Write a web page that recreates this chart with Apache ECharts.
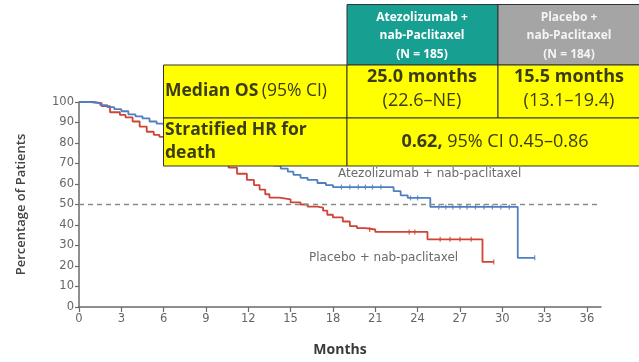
<!DOCTYPE html>
<html>
<head>
<meta charset="utf-8">
<script src="https://cdn.jsdelivr.net/npm/echarts@6/dist/echarts.min.js"></script>
<style>
html,body{margin:0;padding:0;background:#fff;}
#chart{width:639px;height:362px;}
</style>
</head>
<body>
<div id="chart"></div>
<script>
// ---- data ----
const xTicks = [0, 3, 6, 9, 12, 15, 18, 21, 24, 27, 30, 33, 36];
const yTicks = [0, 10, 20, 30, 40, 50, 60, 70, 80, 90, 100];

const atezoTime = [0, 0.8, 1.5, 2.0, 2.5, 3.0, 3.5, 4.0, 4.5, 5.0, 5.5, 6.0, 7, 8, 9, 10, 11, 12, 13, 13.8, 14.3, 14.8, 15.2, 15.7, 16.2, 16.9, 17.5, 18.0, 22.3, 22.8, 23.3, 24.9, 31.1, 32.3];
const atezoSurv = [100, 99.5, 98.5, 97.5, 96.5, 95.5, 94, 93, 92, 90.5, 89.5, 88.5, 86, 83.5, 81, 78.5, 76, 73.5, 71, 69, 67.5, 66, 64.5, 63, 62, 60.5, 59.5, 58.5, 56.5, 54.5, 53.2, 48.8, 24, 24];
const atezoCensorT = [18.6, 19.2, 19.8, 20.3, 20.8, 21.4, 23.5, 24.0, 25.5, 26.0, 26.5, 27.0, 27.5, 28.1, 28.7, 29.3, 29.9, 30.5, 32.3];
const atezoCensorS = [58.5, 58.5, 58.5, 58.5, 58.5, 58.5, 53.2, 53.2, 48.8, 48.8, 48.8, 48.8, 48.8, 48.8, 48.8, 48.8, 48.8, 48.8, 24];

const placeboTime = [0, 1.0, 1.6, 2.2, 2.9, 3.3, 3.8, 4.3, 4.8, 5.3, 5.7, 6.5, 7.5, 8.5, 9.5, 10.2, 10.6, 11.2, 11.9, 12.4, 12.8, 13.2, 13.5, 14.2, 15.0, 15.7, 16.2, 16.9, 17.3, 17.6, 18.0, 18.7, 19.2, 19.7, 20.3, 21.0, 24.7, 28.6, 29.4];
const placeboSurv = [100, 99.5, 98, 95, 93.7, 92.5, 90.5, 88, 85.5, 84, 83, 81.5, 79, 76, 72.5, 70, 68, 65, 62, 59.5, 57.3, 55, 53.4, 52.5, 51, 50, 49, 48.5, 47, 45, 43.7, 41.7, 39.5, 38.5, 37.8, 36.6, 33, 22, 22];
const placeboCensorT = [20.6, 23.4, 23.8, 25.6, 26.3, 27.0, 27.8, 29.4];
const placeboCensorS = [37.8, 36.6, 36.6, 33, 33, 33, 33, 22];

const curveLabels = ['Atezolizumab + nab-paclitaxel', 'Placebo + nab-paclitaxel'];
const headerCol1 = ['Atezolizumab +', 'nab-Paclitaxel', '(N = 185)'];
const headerCol2 = ['Placebo +', 'nab-Paclitaxel', '(N = 184)'];
const rowLabels = ['Median OS', '(95% CI)', 'Stratified HR for', 'death'];
const medianAtezo = ['25.0 months', '(22.6–NE)'];
const medianPlacebo = ['15.5 months', '(13.1–19.4)'];
const hrText = ['0.62,', ' 95% CI 0.45–0.86'];

// ---- build ----
const zip = (a, b) => a.map((v, i) => [v, b[i]]);
const BLUE = '#4f7fc0', RED = '#cf4436';
const F = 'Open Sans, Liberation Sans, sans-serif';
const FA = 'DejaVu Sans, sans-serif';
const TXT = '#3c3c14';

const chart = echarts.init(document.getElementById('chart'));
chart.setOption({
  animation: false,
  backgroundColor: '#fff',
  grid: { left: 79, right: 38, top: 102, bottom: 54 },
  xAxis: {
    type: 'value', min: 0, max: 37,
    name: 'Months', nameLocation: 'middle', nameGap: 36,
    nameTextStyle: { fontFamily: F, fontSize: 14, fontWeight: 'bold', color: '#3a3a3a' },
    axisLine: { lineStyle: { color: '#6a6a6a', width: 1.5 } },
    axisTick: { length: 5, customValues: xTicks, lineStyle: { color: '#6a6a6a', width: 1.2 } },
    axisLabel: { customValues: xTicks, fontFamily: FA, fontSize: 11.5, color: '#666', margin: 6 },
    splitLine: { show: false }
  },
  yAxis: {
    type: 'value', min: 0, max: 100, interval: 10,
    name: 'Percentage of Patients', nameLocation: 'middle', nameGap: 51,
    nameTextStyle: { fontFamily: F, fontSize: 13, fontWeight: 600, color: '#444' },
    axisLine: { show: true, lineStyle: { color: '#6a6a6a', width: 1.5 } },
    axisTick: { show: true, length: 4, lineStyle: { color: '#6a6a6a', width: 1.2 } },
    axisLabel: { fontFamily: FA, fontSize: 11.5, color: '#666', margin: 5 },
    splitLine: { show: false }
  },
  series: [
    {
      type: 'line', step: 'end', data: zip(placeboTime, placeboSurv),
      symbol: 'none', lineStyle: { color: RED, width: 1.8 },
      markLine: {
        silent: true, symbol: 'none', label: { show: false },
        lineStyle: { color: '#8a8a8a', type: [5, 4], width: 1.3 },
        data: [{ yAxis: 50 }]
      },
      z: 3
    },
    {
      type: 'line', step: 'end', data: zip(atezoTime, atezoSurv),
      symbol: 'none', lineStyle: { color: BLUE, width: 1.8 }, z: 3
    },
    {
      type: 'scatter', data: zip(placeboCensorT, placeboCensorS),
      symbol: 'rect', symbolSize: [1.3, 5], itemStyle: { color: RED }, z: 4
    },
    {
      type: 'scatter', data: zip(atezoCensorT, atezoCensorS),
      symbol: 'rect', symbolSize: [1.3, 5], itemStyle: { color: BLUE }, z: 4
    }
  ],
  graphic: [
    { type: 'text', left: 338, top: 168, style: { text: curveLabels[0], font: '12px ' + FA, fill: '#6a6a6a' } },
    { type: 'text', left: 309, top: 252, style: { text: curveLabels[1], font: '12px ' + FA, fill: '#6a6a6a' } },
    // header cells
    { type: 'rect', shape: { x: 347, y: 4.5, width: 151, height: 60.5 }, style: { fill: '#17a091', stroke: '#333', lineWidth: 1 }, z: 10 },
    { type: 'rect', shape: { x: 498, y: 4.5, width: 142, height: 60.5 }, style: { fill: '#a5a5a5', stroke: '#333', lineWidth: 1 }, z: 10 },
    // row 1
    { type: 'rect', shape: { x: 163.5, y: 65, width: 183.5, height: 53 }, style: { fill: '#ffff00', stroke: '#333', lineWidth: 1 }, z: 10 },
    { type: 'rect', shape: { x: 347, y: 65, width: 151, height: 53 }, style: { fill: '#ffff00', stroke: '#333', lineWidth: 1 }, z: 10 },
    { type: 'rect', shape: { x: 498, y: 65, width: 142, height: 53 }, style: { fill: '#ffff00', stroke: '#333', lineWidth: 1 }, z: 10 },
    // row 2
    { type: 'rect', shape: { x: 163.5, y: 118, width: 183.5, height: 48 }, style: { fill: '#ffff00', stroke: '#333', lineWidth: 1 }, z: 10 },
    { type: 'rect', shape: { x: 347, y: 118, width: 293, height: 48 }, style: { fill: '#ffff00', stroke: '#333', lineWidth: 1 }, z: 10 },
    // header text
    { type: 'text', x: 422, y: 36, z: 11, style: { text: headerCol1.join('\n'), font: 'bold 12px ' + F, fill: '#fff', align: 'center', verticalAlign: 'middle', lineHeight: 18.5 } },
    { type: 'text', x: 569, y: 36, z: 11, style: { text: headerCol2.join('\n'), font: 'bold 12px ' + F, fill: '#f4f4f4', align: 'center', verticalAlign: 'middle', lineHeight: 18.5 } },
    // row 1 text
    { type: 'text', x: 165, y: 91, z: 11, style: {
        text: '{b|' + rowLabels[0] + '} {n|' + rowLabels[1] + '}', verticalAlign: 'middle', align: 'left',
        rich: { b: { font: 'bold 17.5px ' + F, fill: TXT }, n: { font: '17.5px ' + F, fill: TXT } } } },
    { type: 'text', x: 422, y: 89, z: 11, style: {
        text: '{b|' + medianAtezo[0] + '}\n{n|' + medianAtezo[1] + '}', align: 'center', verticalAlign: 'middle',
        rich: { b: { font: 'bold 18px ' + F, fill: TXT, lineHeight: 24, align: 'center' }, n: { font: '18px ' + F, fill: TXT, lineHeight: 24, align: 'center' } } } },
    { type: 'text', x: 569, y: 89, z: 11, style: {
        text: '{b|' + medianPlacebo[0] + '}\n{n|' + medianPlacebo[1] + '}', align: 'center', verticalAlign: 'middle',
        rich: { b: { font: 'bold 18px ' + F, fill: TXT, lineHeight: 24, align: 'center' }, n: { font: '18px ' + F, fill: TXT, lineHeight: 24, align: 'center' } } } },
    // row 2 text
    { type: 'text', x: 165, y: 142, z: 11, style: {
        text: rowLabels[2] + '\n' + rowLabels[3], font: 'bold 17.5px ' + F, fill: TXT, align: 'left', verticalAlign: 'middle', lineHeight: 23 } },
    { type: 'text', x: 495, y: 142, z: 11, style: {
        text: '{b|' + hrText[0] + '}{n|' + hrText[1] + '}', align: 'center', verticalAlign: 'middle',
        rich: { b: { font: 'bold 18px ' + F, fill: TXT }, n: { font: '18px ' + F, fill: TXT } } } }
  ]
});
</script>
</body>
</html>
